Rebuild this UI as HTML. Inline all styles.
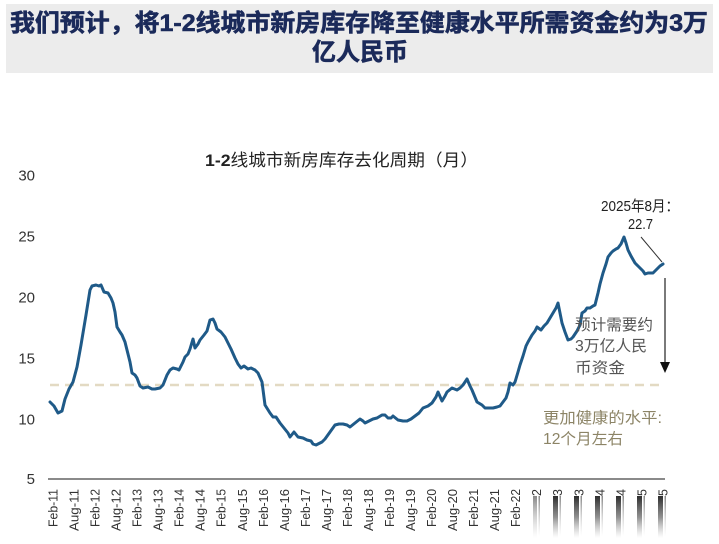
<!DOCTYPE html>
<html><head><meta charset="utf-8"><style>
html,body{margin:0;padding:0;background:#fff;}
svg{display:block;}
</style></head><body>
<svg width="719" height="544" viewBox="0 0 719 544" xmlns="http://www.w3.org/2000/svg">
<defs>
<linearGradient id="sm" x1="0" y1="0" x2="0" y2="1">
<stop offset="0" stop-color="#222" stop-opacity="0.95"/>
<stop offset="0.5" stop-color="#444" stop-opacity="0.6"/>
<stop offset="1" stop-color="#888" stop-opacity="0"/>
</linearGradient>
<linearGradient id="sm2" x1="0" y1="0" x2="0" y2="1">
<stop offset="0" stop-color="#555" stop-opacity="0.7"/>
<stop offset="1" stop-color="#aaa" stop-opacity="0"/>
</linearGradient>
</defs>
<rect x="0" y="0" width="719" height="544" fill="#fff"/>
<rect x="6" y="4" width="707" height="69" fill="#ececec"/>
<g font-family="'Liberation Sans','Noto Sans CJK SC',sans-serif" font-weight="700" fill="#1b2a5a" stroke="#1b2a5a" stroke-width="0.6" font-size="24">
<text x="10" y="31" textLength="698" lengthAdjust="spacingAndGlyphs">我们预计，将1-2线城市新房库存降至健康水平所需资金约为3万</text>
<text x="360" y="60" text-anchor="middle">亿人民币</text>
</g>

<text x="205" y="166" font-family="'Liberation Sans','Noto Sans CJK SC',sans-serif" font-size="17" fill="#222" textLength="273" lengthAdjust="spacingAndGlyphs"><tspan font-weight="700">1-2</tspan>线城市新房库存去化周期（月）</text>

<g font-family="'Liberation Sans',sans-serif" font-size="15" fill="#333" text-anchor="end">
<text x="35" y="180.5">30</text>
<text x="35" y="241.5">25</text>
<text x="35" y="302.5">20</text>
<text x="35" y="363.5">15</text>
<text x="35" y="424.5">10</text>
<text x="35" y="484">5</text>
</g>

<line x1="48" y1="479" x2="665" y2="479" stroke="#8a8a8a" stroke-width="2"/>
<line x1="50" y1="385" x2="664" y2="385" stroke="#e3dac3" stroke-width="2.5" stroke-dasharray="9,6"/>

<polyline fill="none" stroke="#1f5a88" stroke-width="3" stroke-linejoin="round" stroke-linecap="round" points="
50,402 54,406 58,413 62,411 65,399 69,389 73,382 77,367 81,345 86,315 90,290 92,286 96,285 99,286 101,285 104,292 108,293 111,298 113,303 115,312 117,327 120,332 122,335 125,342 127,350 130,362 132,373 135,375 137,378 140,386 143,388 148,387 152,389 155,389 160,388 163,385 167,375 170,370 173,368 177,369 179,370 183,362 185,357 188,354 190,349 193,339 195,348 198,344 200,340 204,335 207,331 210,320 213,319 215,323 217,329 221,332 225,337 228,343 231,349 235,358 238,364 241,368 244,366 248,369 251,368 255,370 258,373 262,382 265,405 270,413 273,417 276,417 280,423 284,428 288,433 290,437 294,432 298,437 303,438 307,440 311,441 313,444 316,445 318,444 322,442 325,439 330,432 335,425 339,424 343,424 347,425 350,427 355,423 360,419 363,421 365,423 369,421 373,419 377,418 382,415 385,415 388,418 391,418 393,416 398,420 403,421 407,421 411,419 415,416 419,413 423,408 428,406 432,403 436,397 438,392 442,401 445,396 447,392 452,388 457,390 460,388 463,385 467,379 470,386 472,390 477,402 482,405 485,408 490,408 493,408 497,407 500,406 503,402 506,398 508,392 510,383 513,385 515,382 518,372 520,365 523,356 526,346 528,342 532,335 535,331 537,327 541,330 544,326 547,323 550,318 553,313 556,308 558,303 560,313 562,323 565,332 568,340 571,339 573,337 577,331 580,325 582,313 585,311 587,308 590,308 593,306 595,305 598,293 600,284 603,273 606,264 608,257 611,253 613,251 616,249 618,248 621,244 624,237 626,243 628,250 631,256 635,263 638,266 640,268 643,271 645,274 648,273 650,273 653,273 655,271 658,268 660,266 663,264"/>

<g font-family="'Liberation Sans',sans-serif" font-size="12.5" fill="#333" text-anchor="end">
<text transform="translate(57.5,489) rotate(-90)" textLength="38" lengthAdjust="spacingAndGlyphs">Feb-11</text>
<text transform="translate(78.5,489) rotate(-90)" textLength="42" lengthAdjust="spacingAndGlyphs">Aug-11</text>
<text transform="translate(99.6,489) rotate(-90)" textLength="38" lengthAdjust="spacingAndGlyphs">Feb-12</text>
<text transform="translate(120.6,489) rotate(-90)" textLength="42" lengthAdjust="spacingAndGlyphs">Aug-12</text>
<text transform="translate(141.6,489) rotate(-90)" textLength="38" lengthAdjust="spacingAndGlyphs">Feb-13</text>
<text transform="translate(162.7,489) rotate(-90)" textLength="42" lengthAdjust="spacingAndGlyphs">Aug-13</text>
<text transform="translate(183.7,489) rotate(-90)" textLength="38" lengthAdjust="spacingAndGlyphs">Feb-14</text>
<text transform="translate(204.7,489) rotate(-90)" textLength="42" lengthAdjust="spacingAndGlyphs">Aug-14</text>
<text transform="translate(225.7,489) rotate(-90)" textLength="38" lengthAdjust="spacingAndGlyphs">Feb-15</text>
<text transform="translate(246.8,489) rotate(-90)" textLength="42" lengthAdjust="spacingAndGlyphs">Aug-15</text>
<text transform="translate(267.8,489) rotate(-90)" textLength="38" lengthAdjust="spacingAndGlyphs">Feb-16</text>
<text transform="translate(288.8,489) rotate(-90)" textLength="42" lengthAdjust="spacingAndGlyphs">Aug-16</text>
<text transform="translate(309.9,489) rotate(-90)" textLength="38" lengthAdjust="spacingAndGlyphs">Feb-17</text>
<text transform="translate(330.9,489) rotate(-90)" textLength="42" lengthAdjust="spacingAndGlyphs">Aug-17</text>
<text transform="translate(351.9,489) rotate(-90)" textLength="38" lengthAdjust="spacingAndGlyphs">Feb-18</text>
<text transform="translate(373.0,489) rotate(-90)" textLength="42" lengthAdjust="spacingAndGlyphs">Aug-18</text>
<text transform="translate(394.0,489) rotate(-90)" textLength="38" lengthAdjust="spacingAndGlyphs">Feb-19</text>
<text transform="translate(415.0,489) rotate(-90)" textLength="42" lengthAdjust="spacingAndGlyphs">Aug-19</text>
<text transform="translate(436.1,489) rotate(-90)" textLength="38" lengthAdjust="spacingAndGlyphs">Feb-20</text>
<text transform="translate(457.1,489) rotate(-90)" textLength="42" lengthAdjust="spacingAndGlyphs">Aug-20</text>
<text transform="translate(478.1,489) rotate(-90)" textLength="38" lengthAdjust="spacingAndGlyphs">Feb-21</text>
<text transform="translate(499.1,489) rotate(-90)" textLength="42" lengthAdjust="spacingAndGlyphs">Aug-21</text>
<text transform="translate(520.2,489) rotate(-90)" textLength="38" lengthAdjust="spacingAndGlyphs">Feb-22</text>
<text transform="translate(541.2,489) rotate(-90)">2</text>
<text transform="translate(562.2,489) rotate(-90)">3</text>
<text transform="translate(583.3,489) rotate(-90)">3</text>
<text transform="translate(604.3,489) rotate(-90)">4</text>
<text transform="translate(625.3,489) rotate(-90)">4</text>
<text transform="translate(646.4,489) rotate(-90)">5</text>
<text transform="translate(667.4,489) rotate(-90)">5</text>
</g>
<g>
<rect x="533" y="496" width="4" height="42" fill="url(#sm2)"/>
<rect x="538.5" y="496" width="1.5" height="40" fill="url(#sm2)"/>
<rect x="553" y="496" width="5" height="42" fill="url(#sm)"/>
<rect x="559.5" y="496" width="1.5" height="40" fill="url(#sm2)"/>
<rect x="574" y="496" width="5" height="42" fill="url(#sm)"/>
<rect x="580.5" y="496" width="1.5" height="40" fill="url(#sm2)"/>
<rect x="595" y="496" width="5" height="42" fill="url(#sm)"/>
<rect x="601.5" y="496" width="1.5" height="40" fill="url(#sm2)"/>
<rect x="616" y="496" width="5" height="42" fill="url(#sm)"/>
<rect x="622.5" y="496" width="1.5" height="40" fill="url(#sm2)"/>
<rect x="637" y="496" width="5" height="42" fill="url(#sm)"/>
<rect x="643.5" y="496" width="1.5" height="40" fill="url(#sm2)"/>
<rect x="658" y="496" width="5" height="42" fill="url(#sm)"/>
<rect x="664.5" y="496" width="1.5" height="40" fill="url(#sm2)"/>
</g>

<g font-family="'Liberation Sans','Noto Sans CJK SC',sans-serif" fill="#222">
<text x="601" y="211" font-size="15" textLength="78" lengthAdjust="spacingAndGlyphs">2025年8月：</text>
<text x="628" y="229" font-size="15" textLength="25" lengthAdjust="spacingAndGlyphs">22.7</text>
</g>
<line x1="641" y1="237" x2="662" y2="262" stroke="#333" stroke-width="1"/>
<line x1="665" y1="278" x2="665" y2="363" stroke="#222" stroke-width="1.2"/>
<polygon points="660,362 670,362 665,373" fill="#111"/>

<g font-family="'Liberation Sans','Noto Sans CJK SC',sans-serif" fill="#555" font-size="15.5">
<text x="575" y="330" textLength="78" lengthAdjust="spacingAndGlyphs">预计需要约</text>
<text x="575" y="351" textLength="72" lengthAdjust="spacingAndGlyphs">3万亿人民</text>
<text x="575" y="373" textLength="50" lengthAdjust="spacingAndGlyphs">币资金</text>
</g>
<g font-family="'Liberation Sans','Noto Sans CJK SC',sans-serif" fill="#8c8466" font-size="15.5">
<text x="543" y="423" textLength="119" lengthAdjust="spacingAndGlyphs">更加健康的水平:</text>
<text x="543" y="444" textLength="80" lengthAdjust="spacingAndGlyphs">12个月左右</text>
</g>
</svg>
</body></html>
